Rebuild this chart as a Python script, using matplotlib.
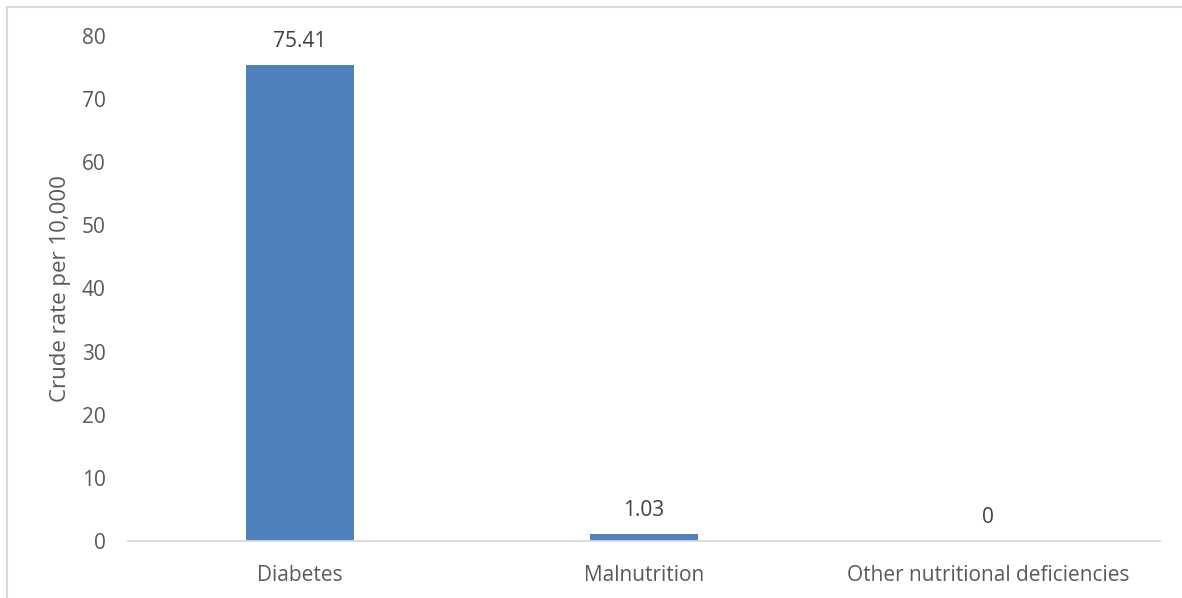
import numpy as np
import matplotlib.pyplot as plt
from matplotlib.lines import Line2D

categories = ["Diabetes", "Malnutrition", "Other nutritional deficiencies"]
rates = [75.41, 1.03, 0]
value_labels = ["75.41", "1.03", "0"]
y_ticks = [0, 10, 20, 30, 40, 50, 60, 70, 80]

plt.rcParams['font.family'] = ['Open Sans', 'DejaVu Sans']
text_color = "#595959"
fs = 15

fig = plt.figure(figsize=(11.82, 5.98), dpi=100)
W, H = 1182, 598
ax = fig.add_axes([128 / W, 1 - 541 / H, (1160 - 128) / W, (541 - 36) / H])

x = np.arange(len(categories))
ax.bar(x, rates, width=0.314, color="#4F81BD", zorder=2)

for xi, v, lab in zip(x, rates, value_labels):
    ax.annotate(lab, (xi, v), xytext=(0, 17), textcoords="offset points",
                ha="center", va="center", fontsize=fs, color="#404040")

ax.set_xlim(-0.5, len(categories) - 0.5)
ax.set_ylim(0, 80)
ax.set_yticks(y_ticks)
ax.set_xticks(x)
ax.set_xticklabels(categories)
ax.tick_params(axis="both", length=0, labelsize=fs, colors=text_color)
ax.tick_params(axis="y", pad=16)
ax.tick_params(axis="x", pad=17)
for s in ["top", "right", "left"]:
    ax.spines[s].set_visible(False)
ax.spines["bottom"].set_color("#D9D9D9")
ax.spines["bottom"].set_linewidth(1.3)
ax.set_ylabel("Crude rate per 10,000", fontsize=16, color=text_color, labelpad=8)

# chart area border (top and left visible)
fig.add_artist(Line2D([7 / W, 7 / W], [0, 1 - 7 / H], color="#D9D9D9", lw=1.5))
fig.add_artist(Line2D([7 / W, 1], [1 - 7 / H, 1 - 7 / H], color="#D9D9D9", lw=1.5))

fig.savefig("out.png", dpi=100)
